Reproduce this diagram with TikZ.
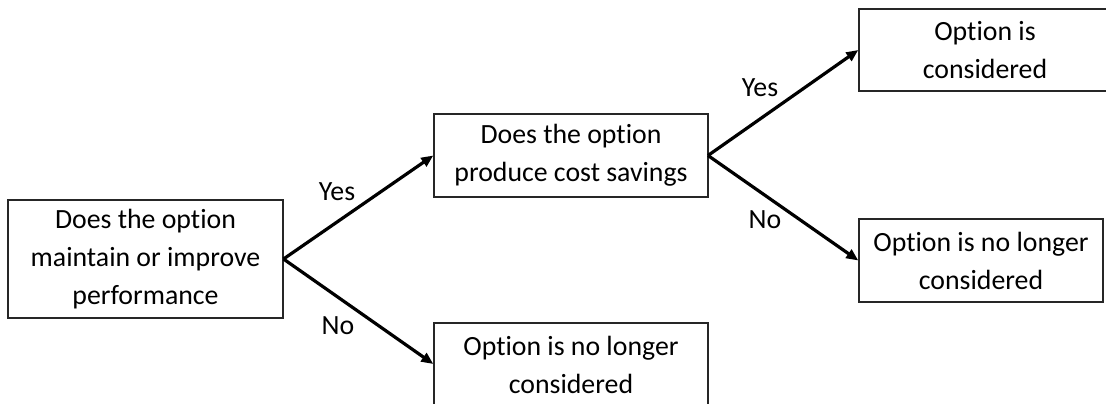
\documentclass[tikz,border=0pt]{standalone}
\usepackage{fontspec}
\setmainfont{Carlito}[RawFeature=-liga]
\usetikzlibrary{arrows.meta}
\begin{document}
\begin{tikzpicture}[x=1pt,y=-1pt,
  box/.style={draw=black!85,line width=1.4pt,align=center,inner sep=0pt,
    font=\fontsize{27.8}{38}\selectfont},
  conn/.style={line width=3.2pt,-{Triangle[length=12pt,width=10pt]}},
  lbl/.style={font=\fontsize{27.8}{30}\selectfont,inner sep=0pt}]
\useasboundingbox (0,0) rectangle (1106,404);
\clip (0,0) rectangle (1106,404);
\node[box,minimum width=275pt,minimum height=118pt] (q1) at (145.5,259) {Does the option\\maintain or improve\\performance};
\node[box,minimum width=274pt,minimum height=83pt] (q2) at (571,155.5) {Does the option\\produce cost savings};
\node[box,minimum width=274pt,minimum height=83pt] (n1) at (571,364.5) {Option is no longer\\considered};
\node[box,minimum width=252pt,minimum height=82pt] (y2) at (985,50) {Option is\\considered};
\node[box,minimum width=244pt,minimum height=83pt] (n2) at (981,260.5) {Option is no longer\\considered};
\coordinate (q1r) at (283.5,259);
\coordinate (q2r) at (708,155.5);
\draw[conn] (q1r) -- (q2.west);
\draw[conn] (q1r) -- (n1.west |- 0,364);
\draw[conn] (q2r) -- (y2.west);
\draw[conn] (q2r) -- (n2.west);
\node[lbl] (l1) at (337,192) {Yes};
\node[lbl] (l2) at (338,326) {No};
\node[lbl] (l3) at (760,88) {Yes};
\node[lbl] (l4) at (765,220) {No};
\end{tikzpicture}
\end{document}
